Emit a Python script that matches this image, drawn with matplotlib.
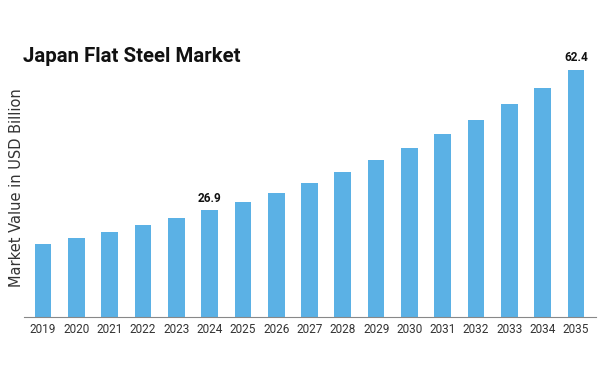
import matplotlib
matplotlib.use("Agg")
import matplotlib.pyplot as plt

years = ["2019", "2020", "2021", "2022", "2023", "2024", "2025", "2026", "2027",
         "2028", "2029", "2030", "2031", "2032", "2033", "2034", "2035"]
values = [18.3, 19.8, 21.4, 23.1, 24.8, 26.9, 28.9, 31.3, 33.8,
          36.5, 39.5, 42.5, 46.0, 49.6, 53.6, 57.8, 62.4]
labeled_years = ["2024", "2035"]

title = "Japan Flat Steel Market"
ylabel = "Market Value in USD Billion"
bar_color = "#5bb1e5"

fig = plt.figure(figsize=(6.07, 3.72), dpi=100)
ax = fig.add_axes([24 / 607, 1 - 316.5 / 372, (596 - 24) / 607, (316.5 - 60) / 372])

x = list(range(len(years)))
ax.bar(x, values, width=0.5, color=bar_color)

for i, (yr, v) in enumerate(zip(years, values)):
    if yr in labeled_years:
        ax.text(i, v + 1.3, f"{v:.1f}", ha="center", va="bottom",
                fontsize=8.5, fontweight="bold", family="Roboto", color="#111111")

ax.set_xlim(-0.57, 16.6)
ax.set_ylim(0, 64.8)
ax.set_xticks(x)
ax.set_xticklabels(years, family="Roboto", fontsize=8.5, color="#333333")
ax.tick_params(axis="x", length=0, pad=4.5)
ax.set_yticks([])
for s in ["top", "right", "left"]:
    ax.spines[s].set_visible(False)
ax.spines["bottom"].set_color("#888888")
ax.spines["bottom"].set_linewidth(0.8)

fig.text(17 / 607, 1 - 188 / 372, ylabel, rotation=90, ha="center", va="center",
         fontsize=10.5, color="#333333", family="DejaVu Sans")
fig.text(23 / 607, 1 - 56 / 372, title, ha="left", va="center",
         fontsize=14.7, fontweight="bold", family="Roboto", color="#111111")
fig.savefig("out.png", dpi=100, facecolor="white")
